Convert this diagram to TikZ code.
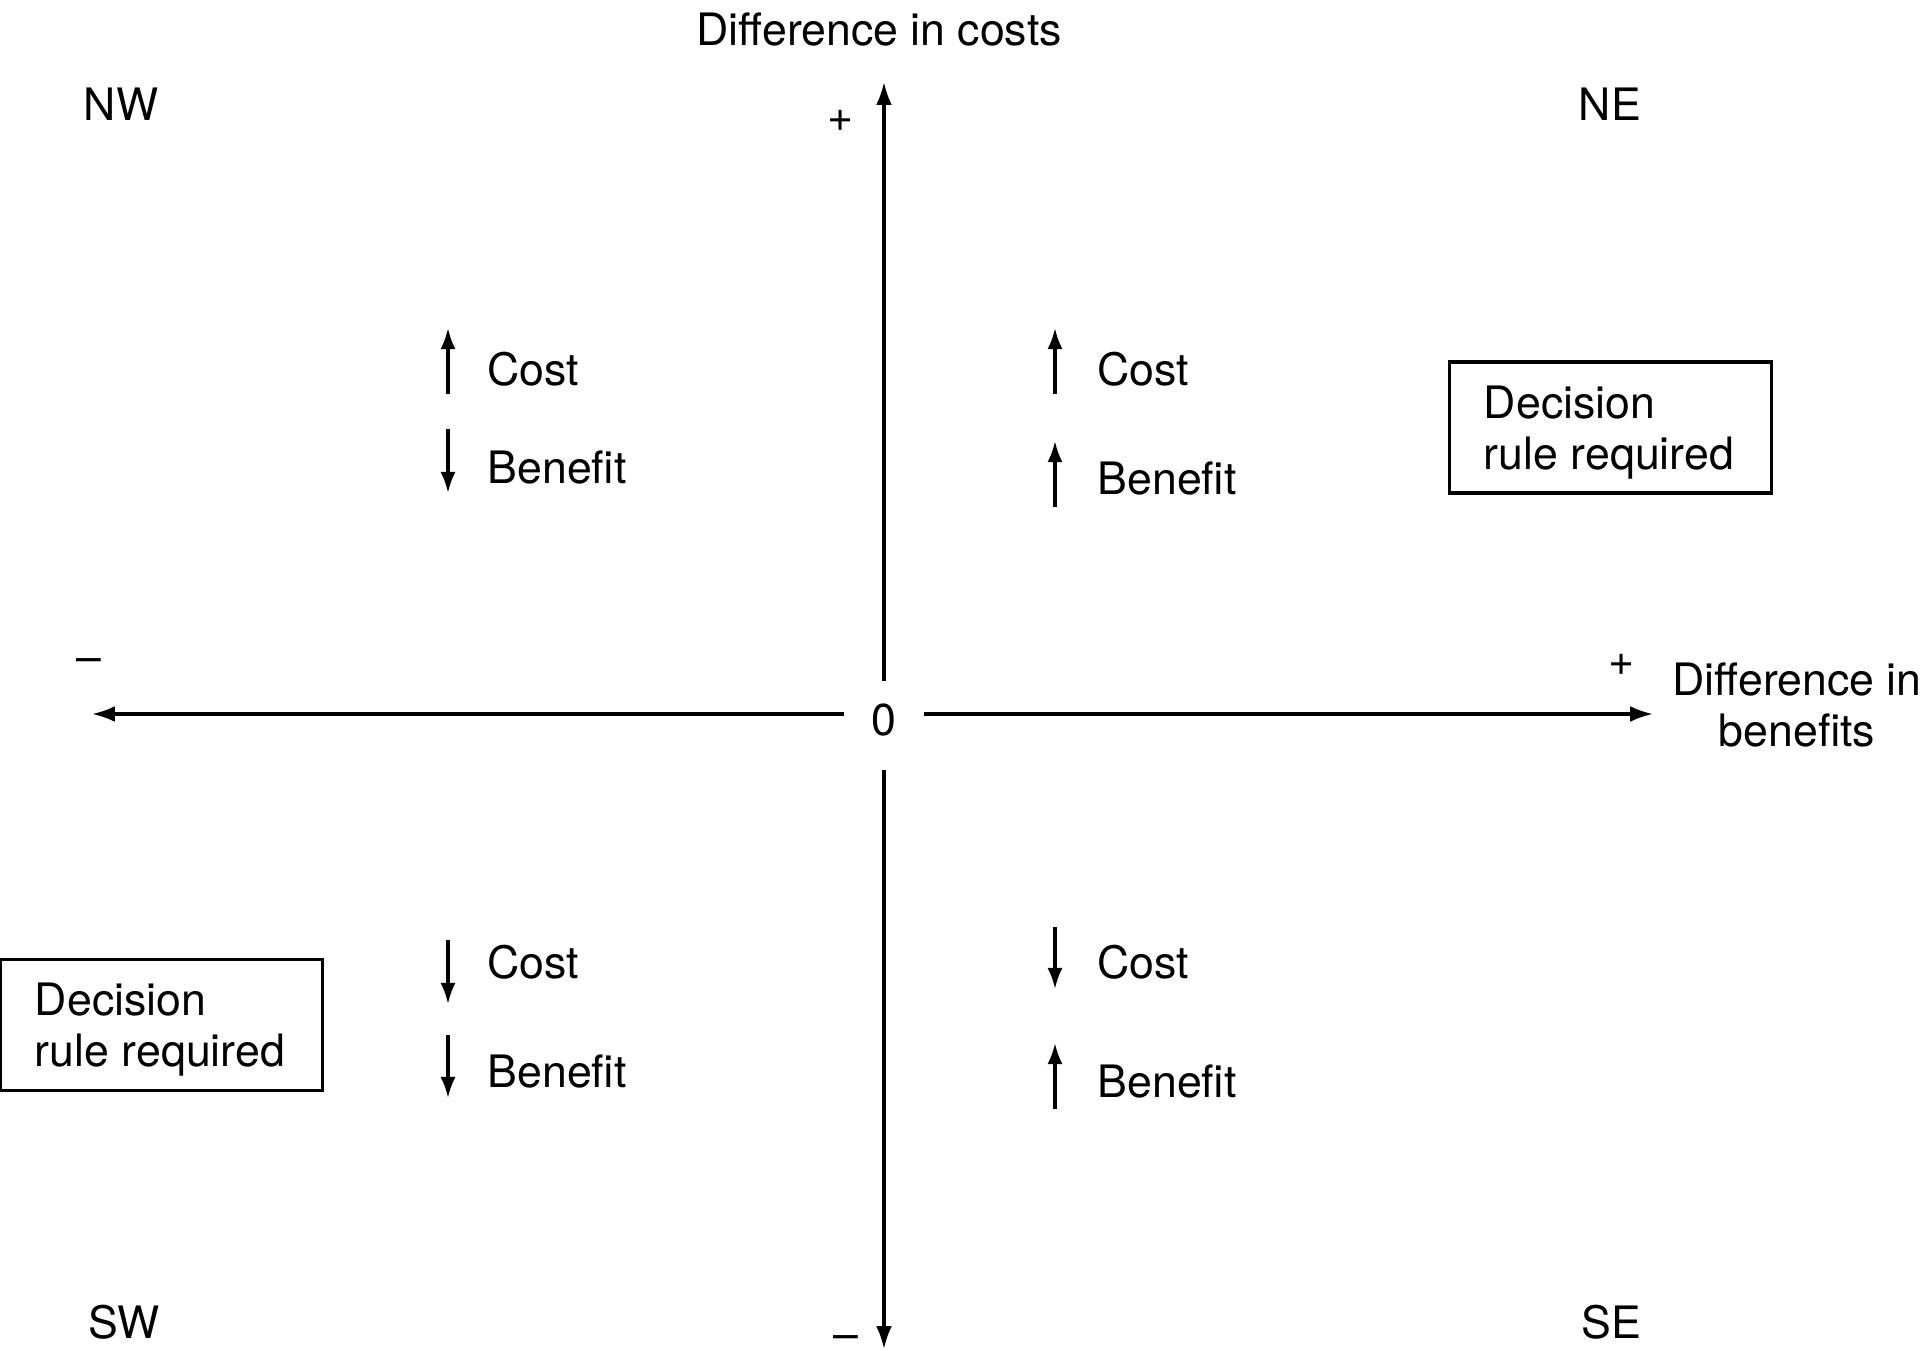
\documentclass[tikz,border=0pt]{standalone}
\usepackage{fontspec}
\setmainfont{TeX Gyre Heros}
\usetikzlibrary{arrows.meta}

\begin{document}
\begin{tikzpicture}[x=0.01cm,y=-0.01cm,
  every node/.style={font=\fontsize{12.7}{14.5}\selectfont},
  axis/.style={line width=0.9pt,-{Latex[length=6.5pt,width=4.5pt]}},
  trend/.style={line width=0.9pt,-{Latex[length=6pt,width=4.3pt]}},
  word/.style={anchor=west,inner sep=0pt},
  rulebox/.style={draw,line width=0.9pt,minimum width=3.21cm,minimum height=1.31cm,inner sep=0pt}]
%\draw[help lines] (0,0) grid[step=100] (1920,1351);
\useasboundingbox (0,0) rectangle (1920,1351);

% axes
\node[inner sep=0pt,minimum width=0.78cm,minimum height=0.64cm] (zero) at (884,714) {\raisebox{-1.7pt}[\height][\depth]{0}};
\coordinate (xneg) at (92,714);
\coordinate (xpos) at (1653,714);
\coordinate (ypos) at (884,82);
\coordinate (yneg) at (884,1349);
\draw[axis] (zero.west) -- (xneg);
\draw[axis] (zero.east) -- (xpos);
\draw[axis] (zero.north) -- (ypos);
\draw[axis,shorten <=0.23cm] (zero.south) -- (yneg);

\node (costs) at (879,29) {Difference in costs};
\node[align=center] (benefits) at (1797,705) {Difference in\\benefits};
\node (yplus) at (841,121) {+};
\node[inner sep=0pt,anchor=base] (yminus) at (846,1349) {–};
\node (xminus) at (89,666) {–};
\node (xplus) at (1622,665) {+};

% quadrants
\node (nw) at (121,104) {NW};
\node (ne) at (1610,104) {NE};
\node (sw) at (124,1322) {SW};
\node (se) at (1611,1322) {SE};

% NW
\node[word] (nwcost) at (487,369) {Cost};
\node[word] (nwben) at (487,467) {Benefit};
\coordinate (nwc1) at (448,394); \coordinate (nwc2) at (448,328);
\coordinate (nwb1) at (448,429); \coordinate (nwb2) at (448,493);
\draw[trend] (nwc1) -- (nwc2);
\draw[trend] (nwb1) -- (nwb2);

% NE
\node[word] (necost) at (1097,369) {Cost};
\node[word] (neben) at (1097,478) {Benefit};
\coordinate (nec1) at (1055,394); \coordinate (nec2) at (1055,328);
\coordinate (neb1) at (1055,507); \coordinate (neb2) at (1055,441);
\draw[trend] (nec1) -- (nec2);
\draw[trend] (neb1) -- (neb2);

% SW
\node[word] (swcost) at (487,962) {Cost};
\node[word] (swben) at (487,1071) {Benefit};
\coordinate (swc1) at (448,940); \coordinate (swc2) at (448,1004);
\coordinate (swb1) at (448,1035); \coordinate (swb2) at (448,1098);
\draw[trend] (swc1) -- (swc2);
\draw[trend] (swb1) -- (swb2);

% SE
\node[word] (secost) at (1097,962) {Cost};
\node[word] (seben) at (1097,1081) {Benefit};
\coordinate (sec1) at (1055,927); \coordinate (sec2) at (1055,989);
\coordinate (seb1) at (1055,1109); \coordinate (seb2) at (1055,1043);
\draw[trend] (sec1) -- (sec2);
\draw[trend] (seb1) -- (seb2);

% decision boxes
\node[rulebox] (nerule) at (1610.5,427.5) {\raisebox{-1.4pt}[\height][\depth]{\parbox{2.53cm}{Decision\\rule required}}};
\node[rulebox] (swrule) at (161.5,1025) {\raisebox{-1.4pt}[\height][\depth]{\parbox{2.53cm}{Decision\\rule required}}};
\end{tikzpicture}
\end{document}
